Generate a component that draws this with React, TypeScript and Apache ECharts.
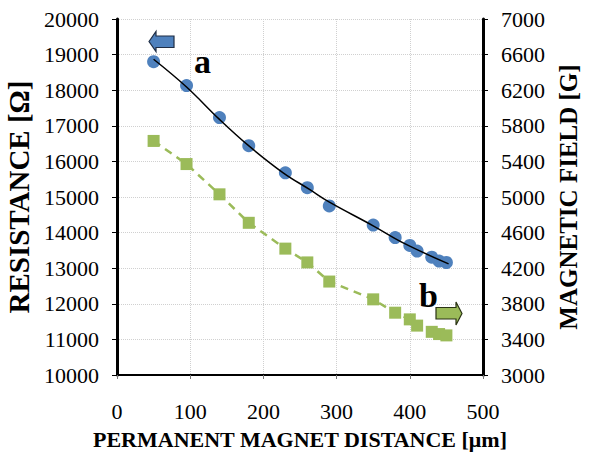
import React, { useEffect, useRef } from "react";
import * as echarts from "echarts";

// distance (µm) of the permanent magnet
const distance = [50, 95, 140, 180, 230, 260, 290, 350, 380, 400, 410, 430, 440, 450];
// series a: resistance (Ω), left axis
const resistance = [18800, 18130, 17230, 16440, 15680, 15260, 14750, 14210, 13860, 13640, 13480, 13310, 13200, 13160];
// series b: magnetic field (G), right axis
const field = [5630, 5370, 5030, 4710, 4420, 4265, 4050, 3850, 3700, 3625, 3555, 3485, 3460, 3445];
// trend line of series a
const trendX = [50, 95, 140, 181, 227, 264, 289, 350, 391, 453];
const trendY = [18870, 18090, 17180, 16420, 15680, 15200, 14870, 14190, 13710, 13120];

const xTicks = [0, 100, 200, 300, 400, 500];
const leftTicks = [10000, 20000, 1000];
const rightTicks = [3000, 7000, 400];

const FONT = "Liberation Serif";

export default function App() {
  const ref = useRef<HTMLDivElement>(null);
  useEffect(() => {
    if (!ref.current) return;
    const chart = echarts.init(ref.current, undefined, { renderer: "svg" });
    const blue = "#4F81BD";
    const green = "#9BBB59";
    const plain = (v: number) => String(v);
    const gridLine = { show: true, lineStyle: { color: "#d0d0d0", type: "dotted", width: 1 } };
    chart.setOption({
      animation: false,
      backgroundColor: "#ffffff",
      textStyle: { fontFamily: FONT },
      grid: { left: 117, right: 108, top: 19, bottom: 85, containLabel: false, outerBoundsMode: "none" },
      xAxis: {
        type: "value",
        min: xTicks[0],
        max: xTicks[xTicks.length - 1],
        interval: xTicks[1] - xTicks[0],
        name: "PERMANENT MAGNET DISTANCE [μm]",
        nameLocation: "middle",
        nameGap: 53,
        nameTextStyle: { fontFamily: FONT, fontSize: 22, fontWeight: "bold", color: "#000" },
        axisLine: { show: true, onZero: false, lineStyle: { color: "#000", width: 2 } },
        axisTick: { show: true, length: 4, lineStyle: { color: "#777", width: 1 } },
        axisLabel: { fontFamily: FONT, fontSize: 22, color: "#000", margin: 25, formatter: plain },
        splitLine: gridLine,
      },
      yAxis: [
        {
          type: "value",
          min: leftTicks[0],
          max: leftTicks[1],
          interval: leftTicks[2],
          name: "RESISTANCE [Ω]",
          nameLocation: "middle",
          nameGap: 82,
          nameRotate: 90,
          nameTextStyle: { fontFamily: FONT, fontSize: 29, fontWeight: "bold", color: "#000" },
          axisLine: { show: true, onZero: false, lineStyle: { color: "#000", width: 3 } },
          axisTick: { show: true, length: 5, lineStyle: { color: "#000", width: 1 } },
          axisLabel: { fontFamily: FONT, fontSize: 22, color: "#000", margin: 18, formatter: plain },
          splitLine: gridLine,
        },
        {
          type: "value",
          min: rightTicks[0],
          max: rightTicks[1],
          interval: rightTicks[2],
          position: "right",
          name: "MAGNETIC FIELD [G]",
          nameLocation: "middle",
          nameGap: 72,
          nameRotate: 90,
          nameTextStyle: { fontFamily: FONT, fontSize: 25, fontWeight: "bold", color: "#000" },
          axisLine: { show: true, onZero: false, lineStyle: { color: "#000", width: 3 } },
          axisTick: { show: true, length: 5, lineStyle: { color: "#000", width: 1 } },
          axisLabel: { fontFamily: FONT, fontSize: 22, color: "#000", margin: 18, formatter: plain },
          splitLine: { show: false },
        },
      ],
      series: [
        {
          type: "line",
          name: "trend",
          data: trendX.map((x, i) => [x, trendY[i]]),
          smooth: 0.4,
          showSymbol: false,
          symbol: "none",
          lineStyle: { color: "#000", width: 1.5 },
          z: 3,
        },
        {
          type: "scatter",
          name: "a",
          data: distance.map((x, i) => [x, resistance[i]]),
          symbol: "circle",
          symbolSize: 13,
          itemStyle: { color: blue, opacity: 1 },
          z: 2,
        },
        {
          type: "line",
          name: "b",
          yAxisIndex: 1,
          data: distance.map((x, i) => [x, field[i]]),
          symbol: "rect",
          symbolSize: 12,
          showAllSymbol: true,
          itemStyle: { color: green, opacity: 1 },
          lineStyle: { color: green, width: 2.5, type: [8, 6] },
          z: 2,
        },
      ],
      graphic: [
        {
          type: "polygon",
          shape: {
            points: [
              [149, 41.5], [156, 31.5], [156, 36], [174, 36], [174, 47.5], [156, 47.5], [156, 51.5],
            ],
          },
          style: { fill: blue, stroke: "#1f2d44", lineWidth: 1.2 },
          z: 10,
        },
        {
          type: "polygon",
          shape: {
            points: [
              [462, 313.5], [456, 302], [456, 307.5], [436, 307.5], [436, 319], [456, 319], [456, 325],
            ],
          },
          style: { fill: green, stroke: "#2a3315", lineWidth: 1.2 },
          z: 10,
        },
        {
          type: "text",
          x: 194,
          y: 44,
          style: { text: "a", fontFamily: FONT, fontSize: 34, fontWeight: "bold", fill: "#000" },
          z: 10,
        },
        {
          type: "text",
          x: 419,
          y: 278,
          style: { text: "b", fontFamily: FONT, fontSize: 34, fontWeight: "bold", fill: "#000" },
          z: 10,
        },
      ],
    });
    return () => chart.dispose();
  }, []);
  return (
    <div
      ref={ref}
      style={{ position: "absolute", left: 0, top: 0, width: 591, height: 460, background: "#fff" }}
    />
  );
}
